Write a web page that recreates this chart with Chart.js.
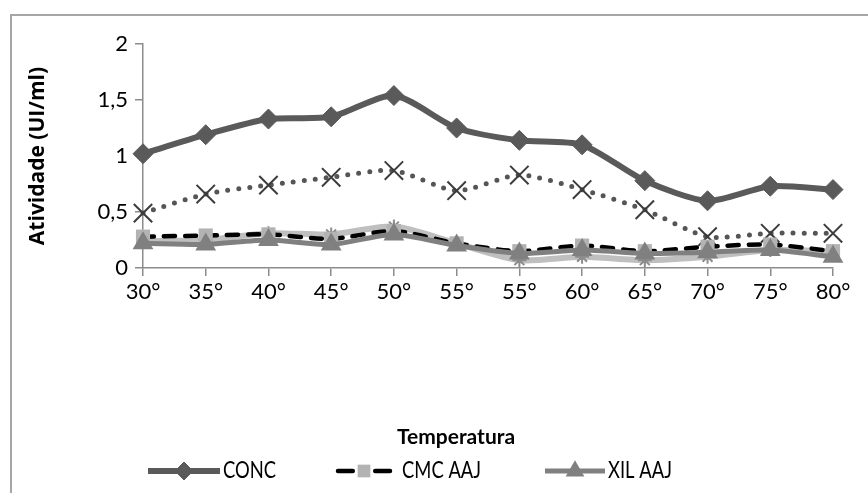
<!DOCTYPE html>
<html><head><meta charset="utf-8">
<script src="https://cdn.jsdelivr.net/npm/chart.js@4/dist/chart.umd.min.js"></script>
<style>
html,body{margin:0;padding:0;background:#fff;}
#wrap{position:relative;width:868px;height:493px;overflow:hidden;background:#fff;}
#frame{position:absolute;left:10px;top:14px;width:900px;height:540px;border:2px solid #a6a6a6;box-sizing:border-box;}
canvas{position:absolute;left:0;top:0;}
</style></head><body>
<div id="wrap"><div id="frame"></div><canvas id="c" width="868" height="493"></canvas></div>
<script>
const categories = ['30°','35°','40°','45°','50°','55°','55°','60°','65°','70°','75°','80°'];
const concValues   = [1.02,1.19,1.33,1.35,1.54,1.25,1.14,1.10,0.78,0.60,0.73,0.70];
const dottedValues = [0.49,0.66,0.74,0.81,0.87,0.69,0.83,0.70,0.52,0.28,0.31,0.31];
const cmcValues    = [0.28,0.29,0.30,0.26,0.33,0.22,0.15,0.20,0.15,0.19,0.21,0.15];
const xilValues    = [0.22,0.21,0.25,0.21,0.30,0.20,0.13,0.16,0.13,0.14,0.16,0.10];
const lightValues  = [0.24,0.25,0.31,0.30,0.37,0.22,0.07,0.10,0.07,0.10,0.16,0.15];
const yTickValues  = [0,0.5,1,1.5,2];
const yTickLabels  = ['0','0,5','1','1,5','2'];
const legendNames  = ['CONC','CMC AAJ','XIL AAJ'];
const xTitle = 'Temperatura';
const yTitle = 'Atividade (UI/ml)';

const TXT = "Lato, 'Open Sans', sans-serif";

const datasets = [
  {label:legendNames[0], data:concValues, borderColor:'#5a5a5a', backgroundColor:'#5a5a5a', borderWidth:6,
   pointStyle:'rectRot', pointRadius:10, pointBackgroundColor:'#5a5a5a', pointBorderColor:'#5a5a5a', pointBorderWidth:1, order:5},
  {label:'', data:dottedValues, borderColor:'#555555', borderWidth:5, borderDash:[0,11], borderCapStyle:'round',
   pointStyle:'crossRot', pointRadius:13, pointBorderColor:'#3c3c3c', pointBorderWidth:2, pointBackgroundColor:'#3c3c3c', order:4},
  {label:legendNames[1], data:cmcValues, borderColor:'#000000', borderWidth:4.5, borderDash:[11,10], borderCapStyle:'round',
   pointStyle:'rect', pointRadius:10, pointBackgroundColor:'#b3b3b3', pointBorderColor:'#b3b3b3', pointBorderWidth:0, order:2},
  {label:legendNames[2], data:xilValues, borderColor:'#808080', borderWidth:5,
   pointStyle:'triangle', pointRadius:12, pointBackgroundColor:'#808080', pointBorderColor:'#808080', pointBorderWidth:0, order:1},
  {label:'', data:lightValues, borderColor:'#bfbfbf', borderWidth:6,
   pointStyle:'star', pointRadius:7, pointBorderColor:'#8c8c8c', pointBorderWidth:2, order:3}
];

const legendPlugin = {
  id:'excelLegend',
  afterDraw(chart){
    const ctx = chart.ctx;
    ctx.save();
    ctx.fillStyle = '#000';
    ctx.textAlign = 'center';
    ctx.textBaseline = 'middle';
    ctx.font = 'bold 21px ' + TXT;
    ctx.fillText(xTitle, 456, 437);
    const items = [
      {ds:0, x:148, w:72, gap:3},
      {ds:2, x:336, w:56, gap:10},
      {ds:3, x:545, w:60, gap:3}
    ];
    const y = 471;
    items.forEach((it, i) => {
      const d = chart.data.datasets[it.ds];
      ctx.save();
      ctx.strokeStyle = d.borderColor;
      ctx.lineWidth = d.borderWidth;
      ctx.lineCap = d.borderCapStyle || 'butt';
      if (d.borderDash) {
        const seg = it.w * 0.3;
        ctx.beginPath();
        ctx.moveTo(it.x + 2, y); ctx.lineTo(it.x + seg, y);
        ctx.moveTo(it.x + it.w - seg, y); ctx.lineTo(it.x + it.w - 2, y);
        ctx.stroke();
      } else {
        ctx.beginPath(); ctx.moveTo(it.x, y); ctx.lineTo(it.x + it.w, y); ctx.stroke();
      }
      ctx.restore();
      ctx.save();
      ctx.fillStyle = d.pointBackgroundColor;
      ctx.strokeStyle = d.pointBorderColor;
      ctx.lineWidth = d.pointBorderWidth;
      Chart.helpers.drawPoint(ctx, {pointStyle:d.pointStyle, radius:d.pointRadius*0.9, borderWidth:d.pointBorderWidth, rotation:0}, it.x + it.w/2, y);
      ctx.restore();
      ctx.save();
      ctx.translate(it.x + it.w + it.gap, y);
      ctx.scale(0.8, 1);
      ctx.font = '23px ' + TXT;
      ctx.textAlign = 'left';
      ctx.textBaseline = 'middle';
      ctx.fillStyle = '#000';
      ctx.fillText(legendNames[i], 0, 0);
      ctx.restore();
    });
    ctx.restore();
  }
};

new Chart(document.getElementById('c'), {
  type:'line',
  data:{labels:categories, datasets:datasets},
  options:{
    responsive:false, animation:false,
    layout:{padding:{top:44, right:35, left:0, bottom:0}},
    elements:{line:{tension:0.25, fill:false}},
    plugins:{legend:{display:false}, tooltip:{enabled:false}},
    scales:{
      x:{
        type:'category', offset:false,
        afterFit(s){ s.height = 225; },
        grid:{display:true, drawOnChartArea:false, drawTicks:true, tickLength:8, color:'#8c8c8c', lineWidth:1.5},
        border:{display:true, color:'#8c8c8c', width:1.5},
        ticks:{color:'#000', font:{family:TXT, size:22}, padding:3, maxRotation:0, autoSkip:false}
      },
      y:{
        min:0, max:2,
        afterFit(s){ s.width = 143; },
        afterBuildTicks(s){ s.ticks = yTickValues.map(v => ({value:v})); },
        grid:{display:true, drawOnChartArea:false, drawTicks:true, tickLength:8, color:'#8c8c8c', lineWidth:1.5},
        border:{display:true, color:'#8c8c8c', width:1.5},
        ticks:{color:'#000', font:{family:TXT, size:22}, padding:7,
          callback(v){ const i = yTickValues.indexOf(v); return i >= 0 ? yTickLabels[i] : ''; }},
        title:{display:true, text:yTitle, color:'#000', font:{family:"'Open Sans', sans-serif", size:21, weight:'bold'}, padding:{top:25, bottom:0}}
      }
    }
  },
  plugins:[legendPlugin]
});
</script>
</body></html>
